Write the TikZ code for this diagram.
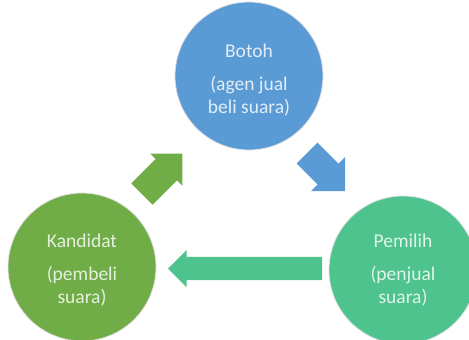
\documentclass[tikz,border=0pt]{standalone}
\usepackage{fontspec}
\setmainfont{Carlito}
\usetikzlibrary{shapes.arrows}
\definecolor{botohblue}{HTML}{5B9BD5}
\definecolor{kandgreen}{HTML}{70AD47}
\definecolor{pemteal}{HTML}{4EC38D}
\tikzset{
    pihak/.style={circle, minimum size=148pt, inner sep=0pt,
        draw=black!12, line width=0.8pt},
    tulisan/.style={align=center, inner sep=0pt, anchor=north,
        font=\fontsize{19.5}{23}\selectfont},
    panah/.style={single arrow, single arrow tip angle=90,
        single arrow head indent=0pt, inner xsep=0pt, outer sep=0pt,
        anchor=tail, draw=none}
}

\begin{document}
\begin{tikzpicture}[x=1pt, y=-1pt]
\useasboundingbox (0,0) rectangle (469,340);

% the three parties
\node[pihak, fill=botohblue] (botoh) at (249,76) {};
\node[pihak, fill=kandgreen] (kandidat) at (82,267) {};
\node[pihak, fill=pemteal] (pemilih) at (403,270) {};

\node[tulisan, text=white!82!botohblue] (botoh-teks)
    at ([yshift=32.5pt]botoh.center) {Botoh\\[10pt](agen jual\\beli suara)};
\node[tulisan, text=white!82!kandgreen] (kandidat-teks)
    at ([yshift=33.5pt]kandidat.center) {Kandidat\\[10pt](pembeli\\suara)};
\node[tulisan, text=white!82!pemteal] (pemilih-teks)
    at ([yshift=36.5pt]pemilih.center) {Pemilih\\[10pt](penjual\\suara)};

% block arrows between them
\node[panah, fill=kandgreen, rotate=45, minimum height=57pt,
    inner ysep=15pt, single arrow head extend=7.5pt] (ke-botoh) at (142,194) {};
\node[panah, fill=botohblue, rotate=-45, minimum height=54pt,
    inner ysep=14.5pt, single arrow head extend=9.5pt] (ke-pemilih) at (307,153) {};
\node[panah, fill=pemteal, rotate=180, minimum height=154pt,
    inner ysep=11.5pt, single arrow head extend=7pt] (ke-kandidat) at (322,268.5) {};
\end{tikzpicture}
\end{document}
